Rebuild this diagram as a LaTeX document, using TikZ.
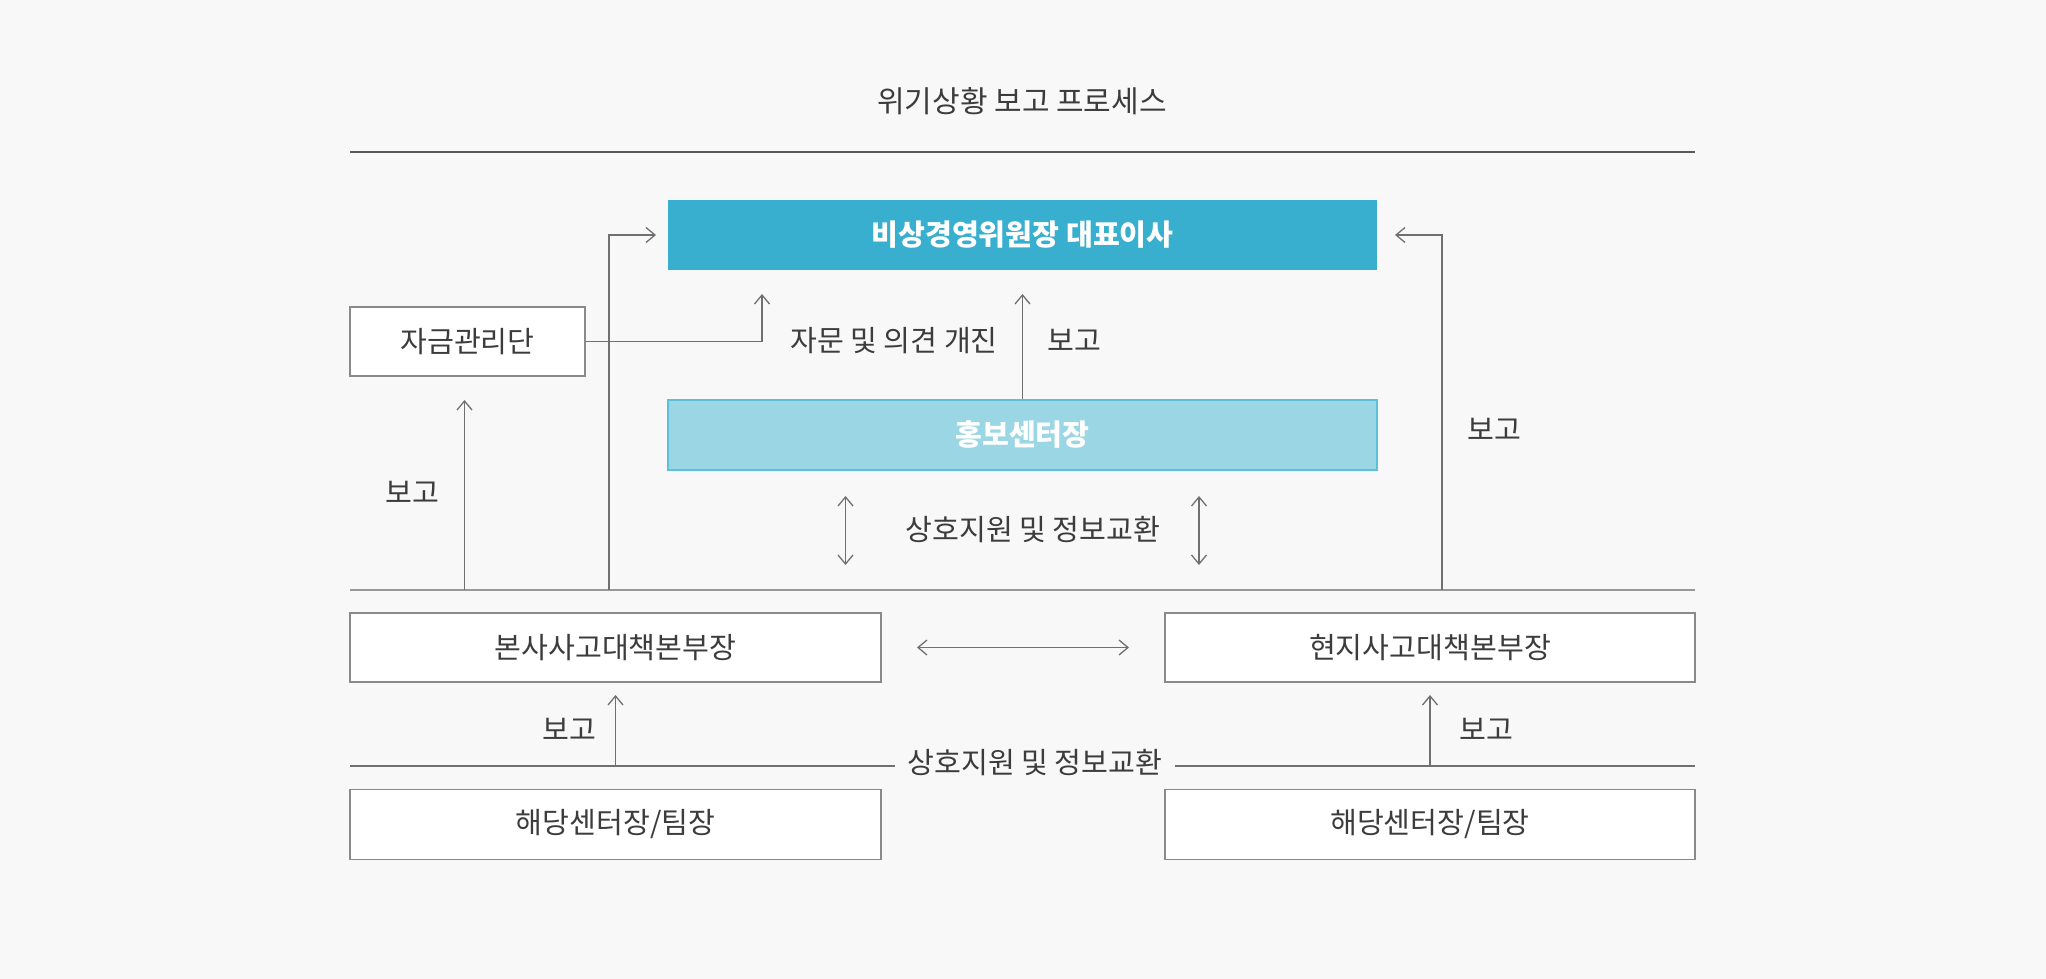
\documentclass[tikz,border=0pt]{standalone}
\usepackage{fontspec}
\setmainfont{Noto Sans CJK KR}
\usetikzlibrary{arrows.meta}
\definecolor{bg}{HTML}{F8F8F8}
\definecolor{topblue}{HTML}{38AFCE}
\definecolor{lightblue}{HTML}{9AD6E3}
\definecolor{lightborder}{HTML}{5CC0DA}
\definecolor{linegray}{HTML}{707070}
\definecolor{boxgray}{HTML}{8A8A8A}
\definecolor{txt}{HTML}{3C3C3C}
\tikzset{
  every node/.style={font=\fontsize{29.2}{33}\selectfont, text=txt, inner sep=0pt},
  whitebox/.style={draw=boxgray, line width=1.3pt, fill=white, minimum height=69pt},
  conn/.style={draw=linegray, line width=1.3pt, -{Straight Barb[length=9pt,width=15pt,line width=1.3pt]}},
  biconn/.style={draw=linegray, line width=1.3pt, {Straight Barb[length=9pt,width=15pt,line width=1.3pt]}-{Straight Barb[length=9pt,width=15pt,line width=1.3pt]}},
  rule/.style={draw=linegray, line width=1.3pt},
  lbl/.style={text=txt}
}
\begin{document}
\begin{tikzpicture}[x=1pt,y=-1pt]
\fill[bg] (0,0) rectangle (2046,979);
\useasboundingbox (0,0) rectangle (2046,979);

% title
\node (title) at (1022,101) {\fontsize{30}{34}\selectfont 위기상황 보고 프로세스};
\draw[rule, draw=black!65] (350,152) -- (1695,152);

% main boxes
\node[fill=topblue, minimum width=709pt, minimum height=70pt] (ceo) at (1022.5,235)
  {\textcolor{white}{\bfseries 비상경영위원장 대표이사}};
\node[whitebox, minimum width=235pt] (fund) at (467.5,341.5) {자금관리단};
\node[fill=lightblue, draw=lightborder, line width=1.3pt, minimum width=709pt, minimum height=70pt] (pr) at (1022.5,435)
  {\textcolor{white}{\bfseries 홍보센터장}};

% middle rule
\coordinate (mL) at (350,590);
\coordinate (mR) at (1695,590);
\draw[rule, draw=black!40] (mL) -- (mR);

\node[whitebox, minimum width=531pt] (hq) at (615.5,647.5) {본사사고대책본부장};
\node[whitebox, minimum width=530pt] (site) at (1430,647.5) {현지사고대책본부장};
\node[whitebox, minimum width=531pt, minimum height=70pt] (teamL) at (615.5,824.5) {해당센터장/팀장};
\node[whitebox, minimum width=530pt, minimum height=70pt] (teamR) at (1430,824.5) {해당센터장/팀장};

% connectors top area
\coordinate (advTip) at (762,294);
\draw[conn] (fund.east) -| (advTip);
\node[lbl] (advLbl) at (894,340.6) {자문 및 의견 개진};

\coordinate (prTip) at (pr.north |- advTip);
\draw[conn] (pr.north) -- (prTip);
\node[lbl] (rep1) at (1074,340.6) {보고};

\coordinate (rStart) at (1442,590);
\coordinate (rTip) at (1395,235);
\draw[conn] (rStart) |- (rTip);
\node[lbl] (rep2) at (1494,429) {보고};

\coordinate (lStart) at (609,590);
\coordinate (lTip) at (656,235);
\draw[conn] (lStart) |- (lTip);

\coordinate (fStart) at (464.5,590);
\coordinate (fTip) at (464.5,400);
\draw[conn] (fStart) -- (fTip);
\node[lbl] (rep3) at (412,492) {보고};

% mutual support (middle)
\coordinate (d1a) at (845.5,496);
\coordinate (d1b) at (845.5,565);
\coordinate (d2a) at (1199,496);
\coordinate (d2b) at (1199,565);
\draw[biconn] (d1a) -- (d1b);
\draw[biconn] (d2a) -- (d2b);
\node[lbl] (mutual1) at (1033,530) {상호지원 및 정보교환};

% horizontal double arrow
\coordinate (hA) at (917,647.5);
\coordinate (hB) at (1129,647.5);
\draw[biconn] (hA) -- (hB);

% bottom rule with label
\coordinate (bL) at (350,766);
\coordinate (bR) at (1695,766);
\draw[rule] (bL) -- (bR);
\node[lbl, fill=bg, inner xsep=13pt, inner ysep=4pt] (mutual2) at (1035,763) {상호지원 및 정보교환};

\coordinate (bA) at (615.5,766);
\coordinate (bAtip) at (615.5,695);
\draw[conn] (bA) -- (bAtip);
\node[lbl] (rep4) at (569,729) {보고};
\coordinate (bB) at (1430,766);
\coordinate (bBtip) at (1430,695);
\draw[conn] (bB) -- (bBtip);
\node[lbl] (rep5) at (1486,729) {보고};
\end{tikzpicture}
\end{document}
